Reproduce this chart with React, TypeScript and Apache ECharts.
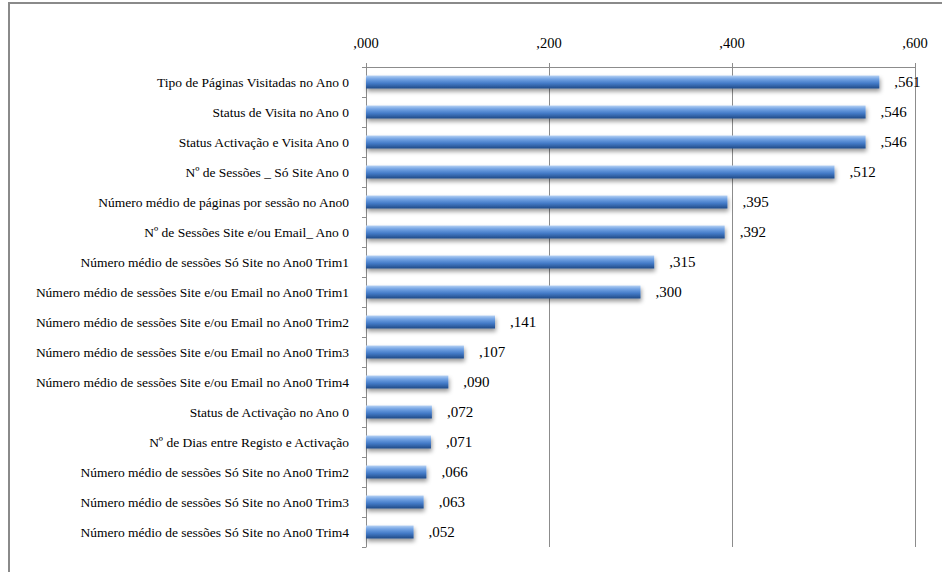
import React, { useEffect, useRef } from "react";
import * as echarts from "echarts";

const categories: string[] = [
  "Tipo de Páginas Visitadas no Ano 0",
  "Status de Visita no Ano 0",
  "Status Activação e Visita Ano 0",
  "Nº de Sessões _ Só Site Ano 0",
  "Número médio de páginas por sessão no Ano0",
  "Nº de Sessões Site e/ou Email_ Ano 0",
  "Número médio de sessões Só Site no Ano0 Trim1",
  "Número médio de sessões Site e/ou Email no Ano0 Trim1",
  "Número médio de sessões Site e/ou Email no Ano0 Trim2",
  "Número médio de sessões Site e/ou Email no Ano0 Trim3",
  "Número médio de sessões Site e/ou Email no Ano0 Trim4",
  "Status de Activação no Ano 0",
  "Nº de Dias entre Registo e Activação",
  "Número médio de sessões Só Site no Ano0 Trim2",
  "Número médio de sessões Só Site no Ano0 Trim3",
  "Número médio de sessões Só Site no Ano0 Trim4",
];

const values: number[] = [
  0.561, 0.546, 0.546, 0.512, 0.395, 0.392, 0.315, 0.3, 0.141, 0.107, 0.09,
  0.072, 0.071, 0.066, 0.063, 0.052,
];

const axisMin = 0;
const axisMax = 0.6;
const axisStep = 0.2;

const fmt = (v: number) => "," + Number(v).toFixed(3).split(".")[1];

const FONT = "Liberation Serif";

export default function App() {
  const ref = useRef<HTMLDivElement>(null);
  useEffect(() => {
    if (!ref.current) return;
    const chart = echarts.init(ref.current, undefined, { renderer: "svg" });
    chart.setOption({
      animation: false,
      backgroundColor: "#ffffff",
      grid: { left: 366, right: 27, top: 67, bottom: 25, containLabel: false },
      graphic: [
        {
          type: "polyline",
          shape: { points: [[9, 572], [9, 3], [942, 3]] },
          style: { stroke: "#8a8a8a", lineWidth: 2, fill: "none" },
          silent: true,
        },
      ],
      xAxis: {
        type: "value",
        position: "top",
        min: axisMin,
        max: axisMax,
        interval: axisStep,
        axisLine: { show: true, lineStyle: { color: "#8c8c8c", width: 1 } },
        axisTick: { show: true, length: 4, lineStyle: { color: "#8c8c8c" } },
        splitLine: { show: true, lineStyle: { color: "#8c8c8c", width: 1 } },
        axisLabel: {
          formatter: (v: number) => fmt(v),
          fontFamily: FONT,
          fontSize: 14.5,
          color: "#000",
          margin: 17,
        },
      },
      yAxis: {
        type: "category",
        inverse: true,
        data: categories,
        axisLine: { show: true, lineStyle: { color: "#8c8c8c", width: 1 } },
        axisTick: { show: true, length: 4, lineStyle: { color: "#8c8c8c" } },
        axisLabel: {
          fontFamily: FONT,
          fontSize: 13.5,
          color: "#000",
          margin: 17,
        },
      },
      series: [
        {
          type: "bar",
          data: values,
          barWidth: 13,
          itemStyle: {
            color: new echarts.graphic.LinearGradient(0, 0, 0, 1, [
              { offset: 0, color: "#b7d2f4" },
              { offset: 0.25, color: "#76a6e5" },
              { offset: 0.6, color: "#447bc8" },
              { offset: 1, color: "#1f4a87" },
            ]),
            shadowColor: "rgba(0,0,0,0.4)",
            shadowBlur: 4,
            shadowOffsetY: 3,
            shadowOffsetX: 1,
          },
          label: {
            show: true,
            position: "right",
            distance: 15,
            formatter: (p: any) => fmt(p.value),
            fontFamily: FONT,
            fontSize: 15,
            color: "#000",
          },
        },
      ],
    });
    return () => chart.dispose();
  }, []);
  return (
    <div
      ref={ref}
      style={{ position: "fixed", left: 0, top: 0, width: 942, height: 572 }}
    />
  );
}
